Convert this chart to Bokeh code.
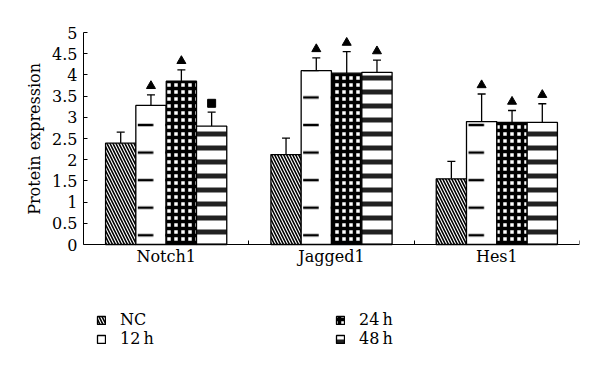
from bokeh.plotting import figure
from bokeh.models import ColumnDataSource, FixedTicker, Whisker, Legend, LegendItem, Range1d, Title
from bokeh.embed import file_html
from bokeh.resources import INLINE

categories = ["Notch1", "Jagged1", "Hes1"]
series = ["NC", "12\u2009h", "24\u2009h", "48\u2009h"]
values = {
    "NC":  [2.39, 2.12, 1.55],
    "12h": [3.28, 4.10, 2.90],
    "24h": [3.85, 4.04, 2.88],
    "48h": [2.79, 4.06, 2.88],
}
upper = {
    "NC":  [2.65, 2.51, 1.96],
    "12h": [3.53, 4.40, 3.55],
    "24h": [4.12, 4.55, 3.16],
    "48h": [3.12, 4.35, 3.32],
}
# significance markers: "t" = triangle, "s" = square, "" = none
marks = {
    "NC":  ["", "", ""],
    "12h": ["t", "t", "t"],
    "24h": ["t", "t", "t"],
    "48h": ["s", "t", "t"],
}
y_ticks = [0, 0.5, 1, 1.5, 2, 2.5, 3, 3.5, 4, 4.5, 5]
y_label = "Protein expression"

FONT = "DejaVu Serif"
keys = ["NC", "12h", "24h", "48h"]
offsets = [-0.275, -0.092, 0.092, 0.275]
bar_w = 0.183

styles = {
    "NC":  dict(fill_color="white", hatch_pattern="\\", hatch_color="black", hatch_scale=6, hatch_weight=1.6),
    "12h": dict(fill_color="white", hatch_pattern='"', hatch_color="black", hatch_scale=27.56, hatch_weight=2.5),
    "24h": dict(fill_color="white", hatch_pattern="+", hatch_color="black", hatch_scale=7, hatch_weight=3.5),
    "48h": dict(fill_color="white", hatch_pattern="-", hatch_color="#222222", hatch_scale=14, hatch_weight=5),
}

# frame extends below zero to host the legend; 42.4 px per unit as in the reference
p = figure(frame_width=496, frame_height=320, output_backend="svg", toolbar_location=None,
           x_range=Range1d(0, 3), y_range=Range1d(-2.547, 5),
           min_border_left=83, min_border_right=13, min_border_top=32, min_border_bottom=0)
p.outline_line_color = None
p.xgrid.visible = False
p.ygrid.visible = False

renderers = []
for k, off in zip(keys, offsets):
    xs = [i + 0.5 + off for i in range(len(categories))]
    src = ColumnDataSource(dict(x=xs, top=values[k], up=upper[k]))
    r = p.vbar(x="x", top="top", bottom=0, width=bar_w, source=src, line_color="black", line_width=1.3, **styles[k])
    renderers.append(r)
    w = Whisker(source=src, base="x", lower="top", upper="up", line_color="black", line_width=1.3)
    w.upper_head.size = 8
    w.upper_head.line_width = 1.3
    w.lower_head = None
    p.add_layout(w)
    tx = [x for x, m in zip(xs, marks[k]) if m == "t"]
    ty = [u + 0.21 for u, m in zip(upper[k], marks[k]) if m == "t"]
    if tx:
        p.scatter(tx, ty, marker="triangle", size=9, color="black")
    sx = [x for x, m in zip(xs, marks[k]) if m == "s"]
    sy = [u + 0.21 for u, m in zip(upper[k], marks[k]) if m == "s"]
    if sx:
        p.scatter(sx, sy, marker="square", size=8, color="black")

# axes
p.xaxis.fixed_location = 0
p.xaxis.ticker = FixedTicker(ticks=[i + 0.5 for i in range(len(categories))],
                             minor_ticks=list(range(len(categories) + 1)))
p.xaxis.major_label_overrides = {i + 0.5: c for i, c in enumerate(categories)}
p.xaxis.major_tick_line_color = None
p.xaxis.major_tick_in = 0
p.xaxis.major_tick_out = 0
p.xaxis.minor_tick_in = 4
p.xaxis.minor_tick_out = 0
p.xaxis.minor_tick_line_color = "black"
p.xaxis.axis_line_color = "black"
p.xaxis.major_label_text_font = FONT
p.xaxis.major_label_text_font_size = "16px"
p.xaxis.major_label_text_color = "black"
p.xaxis.major_label_standoff = 2

p.yaxis.bounds = (0, 5)
p.yaxis.ticker = FixedTicker(ticks=y_ticks)
p.yaxis.major_label_overrides = {t: (str(int(t)) if float(t).is_integer() else str(t)) for t in y_ticks}
p.yaxis.major_tick_in = 4
p.yaxis.major_tick_out = 0
p.yaxis.minor_tick_line_color = None
p.yaxis.axis_line_color = "black"
p.yaxis.major_tick_line_color = "black"
p.yaxis.major_label_text_font = FONT
p.yaxis.major_label_text_font_size = "16px"
p.yaxis.major_label_text_color = "black"
p.yaxis.major_label_standoff = 6

# y-axis title, anchored at the top of the axis and padded so it sits centred on 0-5
ytitle = Title(text=y_label + "\u00a0" * 6, align="right", standoff=12,
               text_font=FONT, text_font_size="16px", text_font_style="normal", text_color="black")
p.add_layout(ytitle, "left")

legend = Legend(items=[LegendItem(label=s, renderers=[r]) for s, r in zip(series, renderers)],
                orientation="vertical", ncols=2,
                label_text_font=FONT, label_text_font_size="16px", label_text_color="black",
                glyph_width=10, glyph_height=10, label_standoff=14, label_width=215,
                spacing=-4, padding=0, margin=0, border_line_color=None,
                background_fill_alpha=0, label_height=14, location=(13, 4))
p.add_layout(legend, "center")

open("out.html", "w").write(file_html(p, INLINE))
